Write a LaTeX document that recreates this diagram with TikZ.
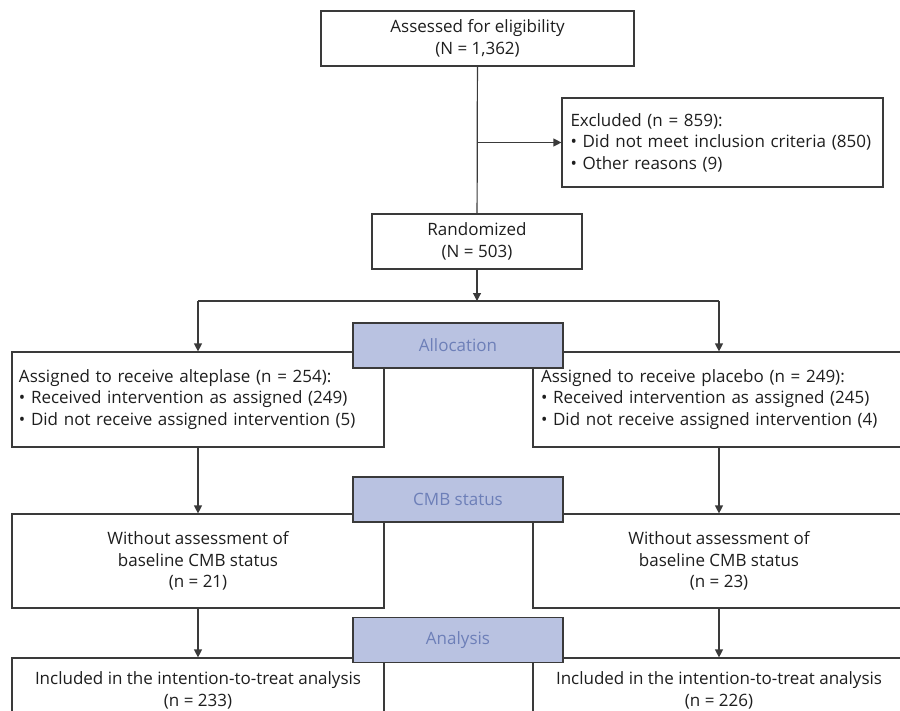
\documentclass[tikz,border=0pt]{standalone}
\usepackage{fontspec}
\setmainfont{Open Sans}
\usetikzlibrary{arrows.meta}
\definecolor[named]{FlowLine}{HTML}{3A3A3A}
\definecolor[named]{FlowText}{HTML}{1E1E1E}
\definecolor[named]{TagFill}{HTML}{B9C2E1}
\definecolor[named]{TagText}{HTML}{6D7FB8}
\tikzset{
  box/.style={draw=FlowLine, line width=1.2pt, fill=white, text=FlowText,
    align=center, inner sep=0pt},
  listbox/.style={box, align=left},
  tag/.style={draw=FlowLine, line width=1.2pt, fill=TagFill, text=TagText,
    minimum width=210pt, minimum height=45pt, inner sep=0pt},
}

\begin{document}
\begin{tikzpicture}[x=1pt,y=-1pt,>={Triangle[length=8pt,width=8pt]},
    color=FlowLine,line width=1.2pt]
  \fontsize{17}{21.5}\selectfont
  \useasboundingbox (0,0) rectangle (900,710);
  % enrolment
  \node[box,minimum width=313pt,minimum height=55pt] (assess) at (477.5,38.5)
    {Assessed for eligibility\\(N = 1,362)};
  \node[listbox,text width=304pt,inner xsep=8.5pt,minimum height=89pt] (excl) at (722.5,142.5)
    {Excluded (n = 859):\\\textbullet\ Did not meet inclusion criteria (850)\\\textbullet\ Other reasons (9)};
  \node[box,minimum width=210pt,minimum height=55pt] (rand) at (477,241.5)
    {Randomized\\(N = 503)};
  \draw (assess) -- (rand);
  \draw[->] (assess.south |- excl.west) -- (excl.west);
  \coordinate (split) at (477,301);
  \draw[->] (rand) -- (split);
  % arms
  \node[listbox,text width=358pt,inner xsep=7pt,minimum height=95pt] (armL) at (198,399.5)
    {Assigned to receive alteplase (n = 254):\\\textbullet\ Received intervention as assigned (249)\\\textbullet\ Did not receive assigned intervention (5)};
  \node[listbox,text width=356pt,inner xsep=8pt,minimum height=95pt] (armR) at (719,399.5)
    {Assigned to receive placebo (n = 249):\\\textbullet\ Received intervention as assigned (245)\\\textbullet\ Did not receive assigned intervention (4)};
  \draw (split -| armL) -- (split -| armR);
  \draw[->] (split -| armL) -- (armL);
  \draw[->] (split -| armR) -- (armR);
  \node[box,minimum width=372pt,minimum height=94pt] (cmbL) at (198,561)
    {Without assessment of\\baseline CMB status\\(n = 21)};
  \node[box,minimum width=372pt,minimum height=94pt] (cmbR) at (719,561)
    {Without assessment of\\baseline CMB status\\(n = 23)};
  \draw[->] (armL) -- (cmbL);
  \draw[->] (armR) -- (cmbR);
  \node[box,minimum width=372pt,minimum height=65pt] (ittL) at (198,690.5)
    {Included in the intention-to-treat analysis\\(n = 233)};
  \node[box,minimum width=372pt,minimum height=65pt] (ittR) at (719,690.5)
    {Included in the intention-to-treat analysis\\(n = 226)};
  \draw[->] (cmbL) -- (ittL);
  \draw[->] (cmbR) -- (ittR);
  % stage tags
  \node[tag] (alloc) at (458,345.5) {Allocation};
  \node[tag] (cmb) at (458,499.5) {CMB status};
  \node[tag] (ana) at (458,640) {Analysis};
\end{tikzpicture}
\end{document}
